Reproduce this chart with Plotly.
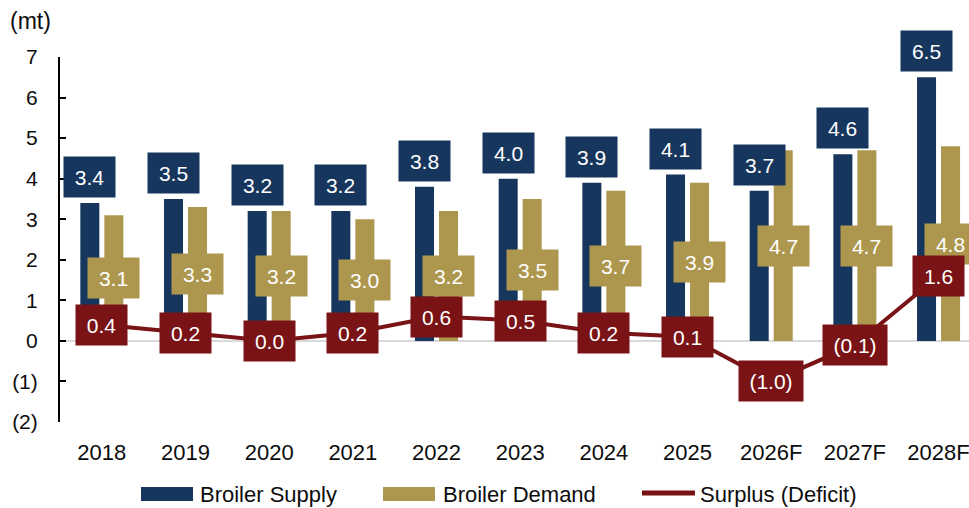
import plotly.graph_objects as go

categories = ["2018", "2019", "2020", "2021", "2022", "2023", "2024", "2025", "2026F", "2027F", "2028F"]
supply = [3.4, 3.5, 3.2, 3.2, 3.8, 4.0, 3.9, 4.1, 3.7, 4.6, 6.5]
demand = [3.1, 3.3, 3.2, 3.0, 3.2, 3.5, 3.7, 3.9, 4.7, 4.7, 4.8]
surplus = [0.4, 0.2, 0.0, 0.2, 0.6, 0.5, 0.2, 0.1, -1.0, -0.1, 1.6]
ytick_vals = [-2, -1, 0, 1, 2, 3, 4, 5, 6, 7]
ytick_text = ["(2)", "(1)", "0", "1", "2", "3", "4", "5", "6", "7"]
series_names = ["Broiler Supply", "Broiler Demand", "Surplus (Deficit)"]
unit_label = "(mt)"

NAVY = "#17365D"
GOLD = "#AD974E"
RED = "#7A1315"
FONT = "Liberation Sans, Arial, sans-serif"
TXT = "#0d0d0d"

W, H = 969, 508
ML, MR, MT, MB = 60, 0, 57, 86
PW, PH = W - ML - MR, H - MT - MB


def px2x(px):
    return (px - ML) / PW


def px2y(py):
    return (H - MB - py) / PH


def fmt(v):
    return f"({abs(v):.1f})" if v < 0 else f"{v:.1f}"


fig = go.Figure()
fig.add_trace(go.Bar(x=categories, y=supply, name=series_names[0], marker_color=NAVY,
                     marker_line_width=0, showlegend=False))
fig.add_trace(go.Bar(x=categories, y=demand, name=series_names[1], marker_color=GOLD,
                     marker_line_width=0, showlegend=False))
fig.add_trace(go.Scatter(x=categories, y=surplus, name=series_names[2], mode="lines",
                         line=dict(color=RED, width=4), showlegend=False))

ann = []
box_font = dict(family=FONT, size=21, color="white")
for i, v in enumerate(supply):
    t = fmt(v)
    ann.append(dict(x=i, y=v, xref="x", yref="y", text=t, showarrow=False, xshift=-12, yshift=26,
                    bgcolor=NAVY, width=49 if len(t) <= 3 else 62, height=38, font=box_font,
                    xanchor="center", yanchor="middle"))
for i, v in enumerate(demand):
    t = fmt(v)
    ann.append(dict(x=i, y=v / 2, xref="x", yref="y", text=t, showarrow=False, xshift=12,
                    bgcolor=GOLD, width=49 if len(t) <= 3 else 62, height=38, font=box_font,
                    xanchor="center", yanchor="middle"))
for i, v in enumerate(surplus):
    t = fmt(v)
    ann.append(dict(x=i, y=v, xref="x", yref="y", text=t, showarrow=False,
                    bgcolor=RED, width=49 if len(t) <= 3 else 62, height=38, font=box_font,
                    xanchor="center", yanchor="middle"))

# unit label
ann.append(dict(x=px2x(30), y=px2y(21), xref="paper", yref="paper", text=unit_label, showarrow=False,
                xanchor="center", yanchor="middle", font=dict(family=FONT, size=23, color=TXT)))

# custom legend
shapes = []
leg_font = dict(family=FONT, size=22, color=TXT)
shapes.append(dict(type="rect", xref="paper", yref="paper", x0=px2x(141), x1=px2x(193),
                   y0=px2y(501), y1=px2y(487), fillcolor=NAVY, line_width=0))
shapes.append(dict(type="rect", xref="paper", yref="paper", x0=px2x(383), x1=px2x(435),
                   y0=px2y(501), y1=px2y(487), fillcolor=GOLD, line_width=0))
shapes.append(dict(type="line", xref="paper", yref="paper", x0=px2x(642), x1=px2x(695),
                   y0=px2y(493), y1=px2y(493), line=dict(color=RED, width=5)))
for px, name in zip([198, 441, 698], series_names):
    ann.append(dict(x=px2x(px), y=px2y(494), xref="paper", yref="paper", text=name, showarrow=False,
                    xanchor="left", yanchor="middle", font=leg_font))

fig.update_layout(
    width=W, height=H,
    margin=dict(l=ML, r=MR, t=MT, b=MB, pad=0),
    paper_bgcolor="white", plot_bgcolor="white",
    barmode="group", bargap=0.426, bargroupgap=0.208,
    font=dict(family=FONT, color=TXT),
    annotations=ann, shapes=shapes,
    showlegend=False,
)
fig.update_xaxes(type="category", range=[-0.5, 10.364], showline=False, showgrid=False, ticks="",
                 tickfont=dict(family=FONT, size=22, color=TXT), ticklabelstandoff=15, zeroline=False)
fig.update_yaxes(range=[-2, 7], tickvals=ytick_vals, ticktext=ytick_text, showgrid=False,
                 showline=True, linecolor="black", linewidth=2, ticks="inside", ticklen=6, tickwidth=2,
                 tickcolor="black", tickfont=dict(family=FONT, size=21, color=TXT),
                 ticklabelstandoff=16, zeroline=True, zerolinecolor="#D9D9D9", zerolinewidth=2)

fig.write_html("out.html", config={"displayModeBar": False},
               post_script="document.body.style.margin='0';document.body.style.overflow='hidden';")
